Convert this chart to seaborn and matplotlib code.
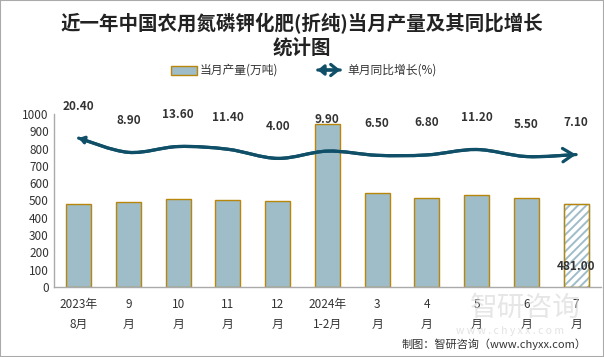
import matplotlib
matplotlib.use("Agg")
import matplotlib.pyplot as plt
import seaborn as sns
import numpy as np
import pandas as pd
from matplotlib.path import Path
from matplotlib.patches import FancyArrowPatch, Rectangle, ArrowStyle

# data
months = ["2023年\n8月", "9\n月", "10\n月", "11\n月", "12\n月", "2024年\n1-2月",
          "3\n月", "4\n月", "5\n月", "6\n月", "7\n月"]
output = [478, 490, 507, 501, 495, 942, 542, 513, 530, 513, 481]   # 万吨
growth = [20.4, 8.9, 13.6, 11.4, 4.0, 9.9, 6.5, 6.8, 11.2, 5.5, 7.1]  # %

df = pd.DataFrame({"month": months, "output": output, "growth": growth})

bar_color = "#9fbcc9"
edge_color = "#b8860b"
line_color = "#0f4f68"
text_color = "#333333"

sns.set_theme(style="white")
plt.rcParams["font.family"] = ["Noto Sans CJK SC", "DejaVu Sans"]
plt.rcParams["hatch.linewidth"] = 1.4

fig = plt.figure(figsize=(6.04, 3.57), dpi=100)
ax = fig.add_axes([0.089, 0.196, 0.906, 0.485])

sns.barplot(data=df, x="month", y="output", color=bar_color, edgecolor=edge_color,
            linewidth=1, width=0.5, saturation=1, ax=ax)

# latest month drawn hatched
last = ax.patches[len(output) - 1]
last.set_facecolor("white")
last.set_edgecolor(bar_color)
last.set_hatch("////")
ax.add_patch(Rectangle(last.get_xy(), last.get_width(), last.get_height(),
                       fill=False, edgecolor=edge_color, lw=1, zorder=3))
ax.annotate(f"{output[-1]:.2f}", (len(output) - 1, 0), xytext=(0, 15),
            textcoords="offset points", ha="center", va="center",
            fontsize=8.5, fontweight="semibold", color=text_color, zorder=5)

ax.set_ylim(0, 1000)
ax.set_yticks(range(0, 1001, 100))
ax.set_xlabel("")
ax.set_ylabel("")
for s in ["top", "right"]:
    ax.spines[s].set_visible(False)
for s in ["left", "bottom"]:
    ax.spines[s].set_color("#aaaaaa")
    ax.spines[s].set_linewidth(1)
ax.tick_params(length=0, labelsize=8.5, colors=text_color)
ax.tick_params(axis="x", pad=8)
for lbl in ax.get_xticklabels():
    lbl.set_linespacing(1.7)

# growth line on a hidden secondary axis, smoothed like the original
ax2 = ax.twinx()
ax2.set_ylim(-100, 40)
ax2.axis("off")
pts = np.column_stack([np.arange(len(growth)), growth]).astype(float)
verts = [pts[0]]
n = len(pts)
for i in range(n - 1):
    p0, p1, p2, p3 = pts[max(i - 1, 0)], pts[i], pts[i + 1], pts[min(i + 2, n - 1)]
    verts += [p1 + (p2 - p0) / 6, p2 - (p3 - p1) / 6, p2]
codes = [Path.MOVETO] + [Path.CURVE4] * (3 * (n - 1))
curve = Path(np.array(verts), codes)

ax2.add_patch(FancyArrowPatch(path=curve, transform=ax2.transData, color=line_color, lw=2.3,
                              arrowstyle=ArrowStyle("<|-", head_length=0.2, head_width=0.14),
                              mutation_scale=15))
ax2.add_patch(FancyArrowPatch(path=curve, transform=ax2.transData, color=line_color, lw=2.3,
                              arrowstyle=ArrowStyle("->", head_length=0.5, head_width=0.32),
                              mutation_scale=15))

for i, v in enumerate(growth):
    ax2.annotate(f"{v:.2f}", (i, v), xytext=(0, 23), textcoords="offset points",
                 ha="center", va="center", fontsize=8.5, fontweight="semibold",
                 color=text_color, annotation_clip=False)

# title
fig.text(0.5, 1 - 24 / 357, "近一年中国农用氮磷钾化肥(折纯)当月产量及其同比增长",
         ha="center", va="center", fontsize=14, fontweight="bold", color="#222222")
fig.text(0.5, 1 - 48 / 357, "统计图", ha="center", va="center",
         fontsize=14, fontweight="bold", color="#222222")

# legend
fig.add_artist(Rectangle((171 / 604, 1 - 75 / 357), 26 / 604, 9 / 357, transform=fig.transFigure,
                         facecolor=bar_color, edgecolor=edge_color, lw=1))
fig.text(200 / 604, 1 - 70 / 357, "当月产量(万吨)", ha="left", va="center",
         fontsize=8.5, color=text_color)
fig.add_artist(FancyArrowPatch((315 / 604, 1 - 70 / 357), (343 / 604, 1 - 70 / 357),
                               transform=fig.transFigure, color=line_color, lw=2.3,
                               arrowstyle=ArrowStyle("<|-", head_length=0.35, head_width=0.3),
                               mutation_scale=10))
fig.add_artist(FancyArrowPatch((315 / 604, 1 - 70 / 357), (343 / 604, 1 - 70 / 357),
                               transform=fig.transFigure, color=line_color, lw=2.3,
                               arrowstyle=ArrowStyle("->", head_length=0.5, head_width=0.4),
                               mutation_scale=10))
fig.text(347 / 604, 1 - 70 / 357, "单月同比增长(%)", ha="left", va="center",
         fontsize=8.5, color=text_color)

# watermark and source
fig.text(525 / 604, 1 - 308 / 357, "智研咨询", ha="center", va="center",
         fontsize=20, color="#d6d6d6", alpha=0.6, zorder=0)
fig.text(510 / 604, 1 - 331 / 357, "w w w . c h y x x . c o m", ha="center", va="center",
         fontsize=7.5, color="#d6d6d6", alpha=0.7, zorder=0)
fig.text(587 / 604, 1 - 344 / 357, "制图：智研咨询（www.chyxx.com）", ha="right", va="center",
         fontsize=8, color=text_color)

fig.add_artist(Rectangle((0, 0), 1, 1, transform=fig.transFigure, fill=False,
                         edgecolor="#aaaaaa", lw=1.5))

fig.savefig("out.png", dpi=100)
